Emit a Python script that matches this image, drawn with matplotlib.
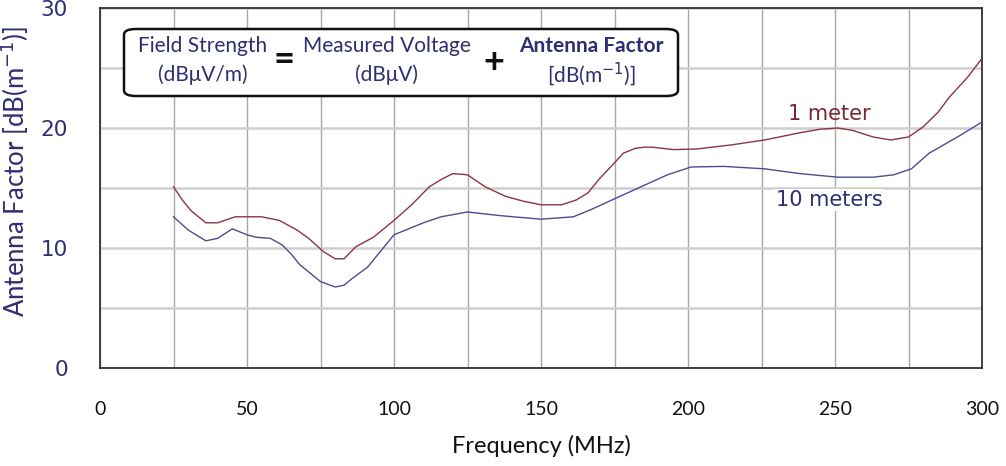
import matplotlib
matplotlib.use("Agg")
import matplotlib.pyplot as plt
from matplotlib.patches import FancyBboxPatch
from matplotlib.ticker import MultipleLocator

# ---- data ----
freq_1m = [25, 28, 31, 36, 40, 46, 55, 61, 67, 71, 76, 80, 83, 87, 93, 100, 106, 112, 116, 120,
           125, 131, 138, 144, 150, 157, 162, 166, 170, 175, 178, 182, 185, 188, 195, 203, 215,
           226, 238, 245, 251, 256, 263, 269, 275, 280, 285, 289, 295, 300]
af_1m = [15.1, 14.0, 13.1, 12.1, 12.1, 12.6, 12.6, 12.3, 11.5, 10.8, 9.7, 9.1, 9.1, 10.1, 10.9,
         12.3, 13.6, 15.1, 15.7, 16.2, 16.1, 15.1, 14.3, 13.9, 13.6, 13.6, 14.0, 14.6, 15.8, 17.1,
         17.9, 18.3, 18.4, 18.4, 18.2, 18.25, 18.6, 19.0, 19.6, 19.9, 20.0, 19.8, 19.25, 19.0,
         19.25, 20.1, 21.3, 22.6, 24.2, 25.8]

freq_10m = [25, 30, 36, 40, 45, 50, 53, 58, 62, 65, 68, 75, 80, 83, 86, 91, 96, 100, 110, 116,
            125, 136, 150, 161, 167, 175, 184, 193, 201, 212, 226, 238, 251, 263, 270, 276, 282,
            287, 292, 300]
af_10m = [12.6, 11.5, 10.6, 10.8, 11.6, 11.1, 10.9, 10.8, 10.25, 9.5, 8.6, 7.2, 6.75, 6.9, 7.5,
          8.4, 9.9, 11.1, 12.1, 12.6, 13.0, 12.7, 12.4, 12.6, 13.2, 14.1, 15.1, 16.1, 16.75, 16.8,
          16.6, 16.2, 15.9, 15.9, 16.1, 16.6, 17.9, 18.6, 19.3, 20.5]

x_ticks = [0, 50, 100, 150, 200, 250, 300]
y_ticks = [0, 10, 20, 30]

NAVY = "#2e2e72"
RED_LINE = "#8c3444"
BLUE_LINE = "#4c4c92"
RED_TEXT = "#7a2632"
FONT = "Lato"
WIDE = "DejaVu Sans"

fig = plt.figure(figsize=(10.06, 4.66), dpi=100)
ax = fig.add_axes([100 / 1006, 1 - 368 / 466, 882 / 1006, 360 / 466])

ax.plot(freq_1m, af_1m, color=RED_LINE, lw=1.0, zorder=3, solid_joinstyle="round")
ax.plot(freq_10m, af_10m, color=BLUE_LINE, lw=1.0, zorder=3, solid_joinstyle="round")

ax.set_xlim(0, 300)
ax.set_ylim(0, 30)
ax.set_xticks(x_ticks)
ax.set_yticks(y_ticks)
ax.xaxis.set_minor_locator(MultipleLocator(25))
ax.yaxis.set_minor_locator(MultipleLocator(5))
ax.grid(which="both", axis="x", color="#a8a8a8", lw=1.0)
ax.grid(which="both", axis="y", color="#cfcfcf", lw=1.8)
ax.set_axisbelow(True)
ax.tick_params(which="both", length=0)
ax.tick_params(axis="x", pad=24, labelsize=14, labelcolor="#111111")
ax.tick_params(axis="y", pad=23, labelsize=15.5, labelcolor=NAVY)
for lab in ax.get_xticklabels():
    lab.set_fontfamily(FONT)
for lab in ax.get_yticklabels():
    lab.set_fontfamily(WIDE)
for sp in ax.spines.values():
    sp.set_color("#333333")
    sp.set_linewidth(1.3)

ax.set_xlabel("Frequency (MHz)", fontsize=17, family=FONT, color="#111111", labelpad=12)
ax.set_ylabel("Antenna Factor [dB(m$^{-1}$)]", fontsize=18.5, family=FONT, color=NAVY)
ax.yaxis.set_label_coords(-0.078, 0.545)

ax.text(248, 21.2, "1 meter", color=RED_TEXT, fontsize=15, family=WIDE, ha="center", va="center")
ax.text(248, 14.0, "10 meters", color=NAVY, fontsize=15, family=WIDE, ha="center", va="center",
        bbox=dict(facecolor="white", edgecolor="none", pad=1))

# formula box
box = FancyBboxPatch((124 / 1006, 1 - 96 / 466), 554 / 1006, 67 / 466,
                     boxstyle="round,pad=0,rounding_size=0.012", transform=fig.transFigure,
                     facecolor="white", edgecolor="#111111", lw=1.8, zorder=5)
fig.patches.append(box)

def ftxt(px, py, s, **kw):
    fig.text(px / 1006, 1 - py / 466, s, ha="center", va="center", zorder=6, **kw)

FS = 15
ftxt(203, 46, "Field Strength", fontsize=FS, family=FONT, color=NAVY)
ftxt(203, 75, "(dBμV/m)", fontsize=FS, family=FONT, color=NAVY)
ftxt(284, 60, "=", fontsize=26, family=FONT, color="#111111", fontweight="bold")
ftxt(387, 46, "Measured Voltage", fontsize=FS, family=FONT, color=NAVY)
ftxt(387, 75, "(dBμV)", fontsize=FS, family=FONT, color=NAVY)
ftxt(494, 62, "+", fontsize=26, family=FONT, color="#111111", fontweight="bold")
ftxt(591, 46, "Antenna Factor", fontsize=FS, family=FONT, color=NAVY, fontweight="bold")
ftxt(591, 74, "[dB(m$^{-1}$)]", fontsize=FS, family=FONT, color=NAVY)

fig.savefig("out.png", dpi=100)
